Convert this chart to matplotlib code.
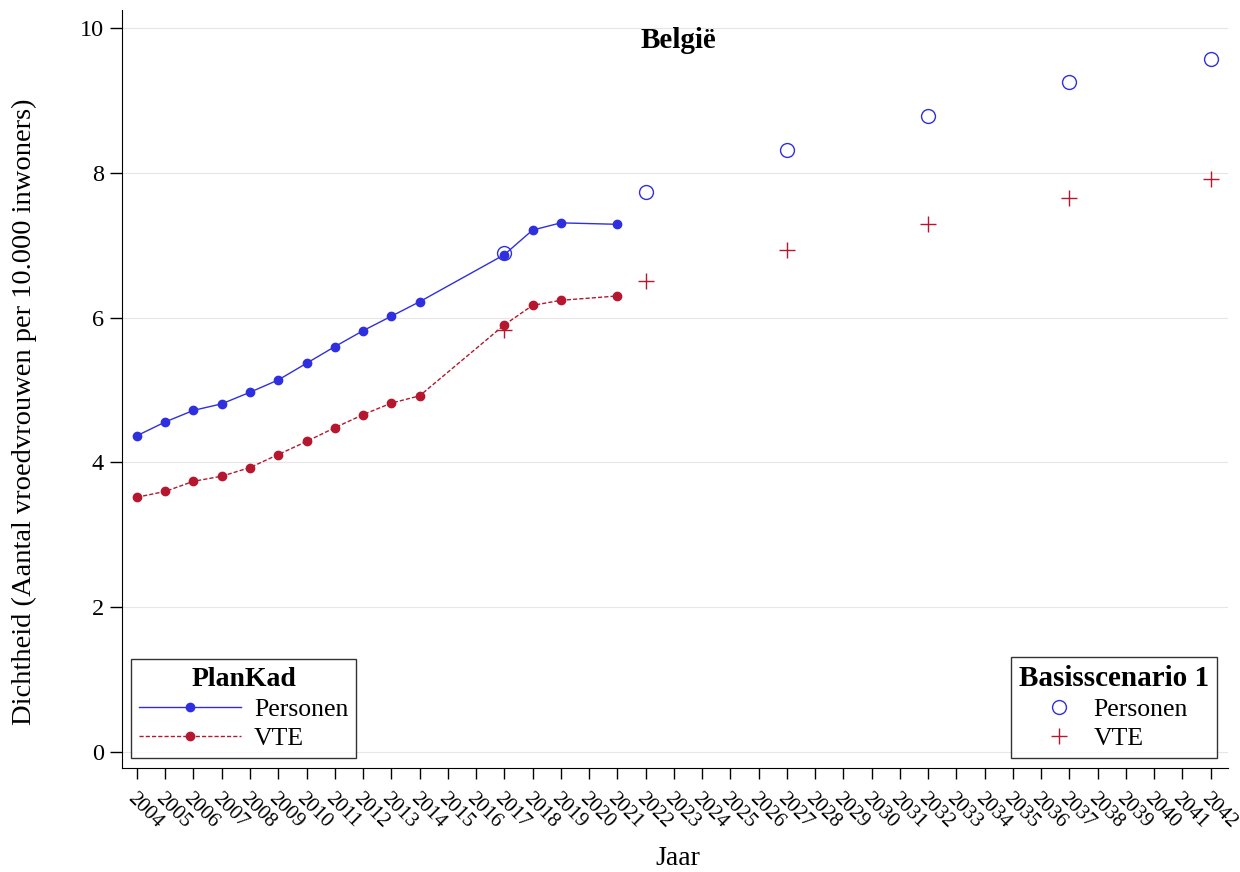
import numpy as np
import matplotlib.pyplot as plt
from matplotlib.lines import Line2D

plt.rcParams['font.family'] = ['Liberation Serif', 'DejaVu Serif']

# PlanKad (geobserveerd)
jaren_plankad = [2004, 2005, 2006, 2007, 2008, 2009, 2010, 2011, 2012, 2013, 2014, 2017, 2018, 2019, 2021]
personen_plankad = [4.37, 4.56, 4.72, 4.81, 4.97, 5.14, 5.37, 5.60, 5.82, 6.02, 6.22, 6.87, 7.21, 7.31, 7.29]
vte_plankad = [3.52, 3.60, 3.74, 3.81, 3.93, 4.11, 4.29, 4.48, 4.66, 4.82, 4.92, 5.90, 6.17, 6.24, 6.30]

# Basisscenario 1 (projectie)
jaren_scen = [2017, 2022, 2027, 2032, 2037, 2042]
personen_scen = [6.90, 7.73, 8.32, 8.79, 9.25, 9.58]
vte_scen = [5.83, 6.51, 6.94, 7.30, 7.66, 7.92]

alle_jaren = list(range(2004, 2043))
y_ticks = [0, 2, 4, 6, 8, 10]

blauw = '#2f2fe0'
rood = '#b5172f'

fig = plt.figure(figsize=(12.4, 8.72), dpi=100)
ax = fig.add_axes([0.0984, 0.1193, 0.8916, 0.8692])

ax.plot(jaren_plankad, personen_plankad, '-', color=blauw, lw=1, marker='o', ms=6)
ax.plot(jaren_plankad, vte_plankad, '--', color=rood, lw=1, marker='o', ms=6, dashes=(3, 1.5))
ax.plot(jaren_scen, personen_scen, 'o', mfc='none', mec=blauw, ms=10, mew=1)
ax.plot(jaren_scen, vte_scen, '+', color=rood, ms=11, mew=1)

ax.set_xlim(2003.47, 2042.6)
ax.set_ylim(-0.22, 10.25)
ax.set_yticks(y_ticks)
ax.set_yticklabels([str(v) for v in y_ticks], fontsize=17.5)
ax.set_xticks(alle_jaren)
ax.set_xticklabels([str(j) for j in alle_jaren], fontsize=15, rotation=-45,
                   ha='left', va='top', rotation_mode='anchor')
ax.tick_params(axis='y', length=9, width=1, pad=4)
ax.tick_params(axis='x', length=8, width=1, pad=7)
ax.grid(axis='y', color='#e6e6e6', lw=0.8)
ax.set_axisbelow(True)
for s in ['top', 'right']:
    ax.spines[s].set_visible(False)

ax.set_xlabel('Jaar', fontsize=20)
ax.xaxis.label.set_va('center')
ax.xaxis.set_label_coords(0.503, -0.119)
ax.set_ylabel('Dichtheid (Aantal vroedvrouwen per 10.000 inwoners)', fontsize=20.5)
ax.yaxis.label.set_va('center')
ax.yaxis.set_label_coords(-0.0886, 0.47)
ax.text(0.503, 0.978, 'België', transform=ax.transAxes, ha='center', va='top',
        fontsize=21, fontweight='bold')

h1 = [Line2D([], [], color=blauw, lw=1, marker='o', ms=6),
      Line2D([], [], color=rood, lw=1, ls='--', dashes=(3, 1.5), marker='o', ms=6)]
leg1 = ax.legend(h1, ['Personen', 'VTE'], title='PlanKad', loc='lower left',
                 bbox_to_anchor=(0.008, 0.013), borderaxespad=0, fontsize=18.5,
                 title_fontproperties={'weight': 'bold', 'size': 20},
                 frameon=True, fancybox=False, edgecolor='black', handlelength=4.0,
                 borderpad=0.3, labelspacing=0.25, handletextpad=0.5)
leg1.get_frame().set_linewidth(1)
ax.add_artist(leg1)

h2 = [Line2D([], [], ls='none', marker='o', mfc='none', mec=blauw, ms=10),
      Line2D([], [], ls='none', marker='+', color=rood, ms=11)]
leg2 = ax.legend(h2, ['Personen', 'VTE'], title='Basisscenario 1', loc='lower right',
                 bbox_to_anchor=(0.990, 0.013), borderaxespad=0, fontsize=18.5,
                 title_fontproperties={'weight': 'bold', 'size': 21},
                 frameon=True, fancybox=False, edgecolor='black', handlelength=1.5,
                 borderpad=0.3, labelspacing=0.25, handletextpad=0.6)
leg2.get_frame().set_linewidth(1)

fig.savefig('out.png', dpi=100)
